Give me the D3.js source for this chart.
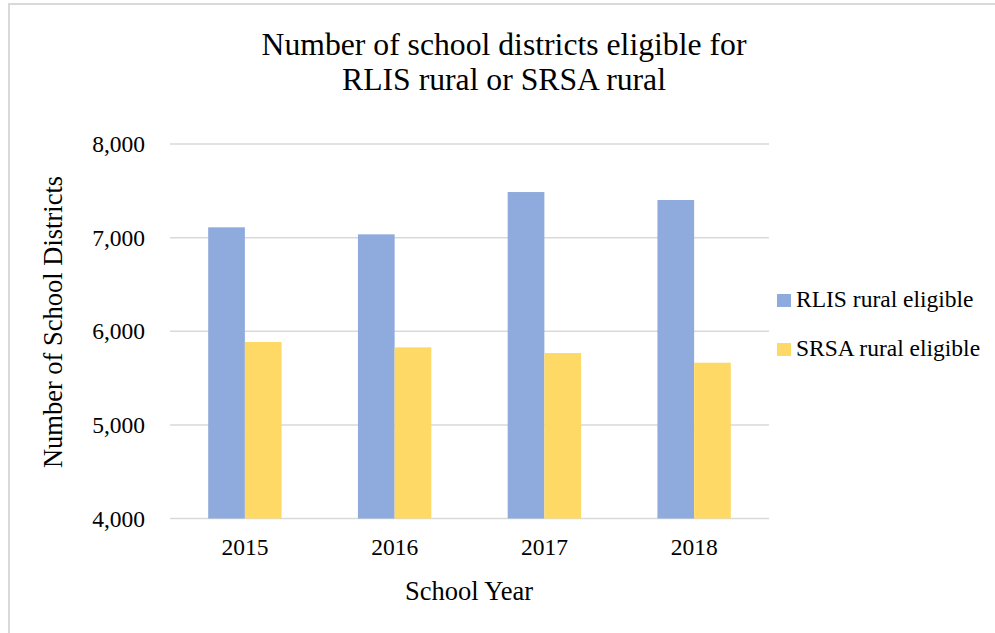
<!DOCTYPE html>
<html>
<head>
<meta charset="utf-8">
<script src="https://cdn.jsdelivr.net/npm/d3@7"></script>
<style>
  body { margin: 0; background: #fff; }
  text { font-family: "Liberation Serif", "Times New Roman", serif; fill: #000; }
</style>
</head>
<body>
<div class="canva"></div>
<script>
var years = ["2015", "2016", "2017", "2018"];
var seriesNames = ["RLIS rural eligible", "SRSA rural eligible"];
var rlisValues = [7110, 7035, 7487, 7402];
var srsaValues = [5885, 5828, 5767, 5664];
var yTicks = [4000, 5000, 6000, 7000, 8000];
var colors = ["#8FAADC", "#FFD966"];

const width = 995, height = 633;
const svg = d3.select(".canva").append("svg")
    .attr("width", width)
    .attr("height", height)
    .attr("font-family", "'Liberation Serif', 'Times New Roman', serif");

// chart border (light grey frame)
svg.append("rect")
    .attr("x", 9).attr("y", 4)
    .attr("width", 1000).attr("height", 700)
    .attr("fill", "none")
    .attr("stroke", "#d9d9d9")
    .attr("stroke-width", 2);

const plot = {left: 170, right: 769, top: 144, bottom: 518.5};

var x = d3.scaleBand()
    .domain(years)
    .range([plot.left, plot.right])
    .paddingInner(0.51)
    .paddingOuter(0.255);

var xInner = d3.scaleBand()
    .domain(seriesNames)
    .range([0, x.bandwidth()]);

var y = d3.scaleLinear()
    .domain([4000, 8000])
    .range([plot.bottom, plot.top]);

// gridlines
svg.append("g")
    .selectAll("line")
    .data(yTicks)
    .enter()
    .append("line")
    .attr("x1", plot.left)
    .attr("x2", plot.right)
    .attr("y1", d => y(d))
    .attr("y2", d => y(d))
    .attr("stroke", "#d9d9d9")
    .attr("stroke-width", 1.5);

// y axis labels
var yAxis = d3.axisLeft(y)
    .tickValues(yTicks)
    .tickSize(0)
    .tickPadding(25)
    .tickFormat(d3.format(","));
var gy = svg.append("g")
    .attr("transform", `translate(${plot.left}, 0)`)
    .call(yAxis)
    .attr("font-family", "'Liberation Serif', serif")
    .attr("font-size", 23.5);
gy.select(".domain").remove();
gy.selectAll("text").attr("fill", "#000");

// x axis labels
var xAxis = d3.axisBottom(x).tickSize(0).tickPadding(20);
var gx = svg.append("g")
    .attr("transform", `translate(0, ${plot.bottom})`)
    .call(xAxis)
    .attr("font-family", "'Liberation Serif', serif")
    .attr("font-size", 23.5);
gx.select(".domain").remove();
gx.selectAll("text").attr("fill", "#000");

// bars
var table = years.map((yr, i) => ({year: yr, values: [rlisValues[i], srsaValues[i]]}));
var groups = svg.append("g")
    .selectAll("g")
    .data(table)
    .enter()
    .append("g")
    .attr("transform", d => `translate(${x(d.year)}, 0)`);

groups.selectAll("rect")
    .data(d => d.values.map((v, j) => ({name: seriesNames[j], value: v, color: colors[j]})))
    .enter()
    .append("rect")
    .attr("x", d => xInner(d.name))
    .attr("y", d => y(d.value))
    .attr("width", xInner.bandwidth())
    .attr("height", d => y(4000) - y(d.value))
    .attr("fill", d => d.color);

// title
svg.append("text")
    .attr("x", 504)
    .attr("y", 55)
    .attr("text-anchor", "middle")
    .style("font-size", "31.7px")
    .text("Number of school districts eligible for");
svg.append("text")
    .attr("x", 504)
    .attr("y", 90)
    .attr("text-anchor", "middle")
    .style("font-size", "31.7px")
    .text("RLIS rural or SRSA rural");

// axis titles
svg.append("text")
    .attr("x", 469)
    .attr("y", 600)
    .attr("text-anchor", "middle")
    .style("font-size", "26.5px")
    .text("School Year");

svg.append("text")
    .attr("transform", "translate(62, 322) rotate(-90)")
    .attr("text-anchor", "middle")
    .style("font-size", "26.5px")
    .text("Number of School Districts");

// legend
var legend = svg.append("g")
    .selectAll("g")
    .data(seriesNames)
    .enter()
    .append("g")
    .attr("transform", (d, i) => `translate(777, ${294 + i * 49})`);
legend.append("rect")
    .attr("width", 14)
    .attr("height", 13)
    .attr("fill", (d, i) => colors[i]);
legend.append("text")
    .attr("x", 19)
    .attr("y", 13)
    .style("font-size", "23.5px")
    .text(d => d);
</script>
</body>
</html>
